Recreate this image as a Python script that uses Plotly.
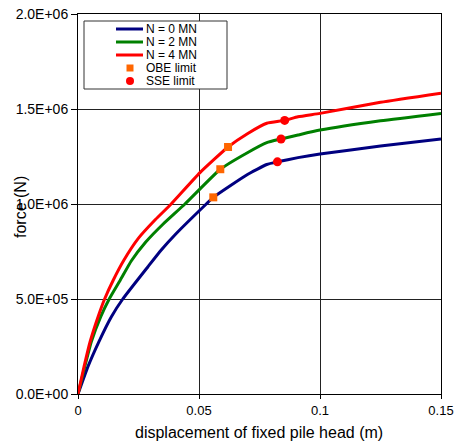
import plotly.graph_objects as go

# ---------------- data ----------------
x_n0 = [0, 0.0041, 0.0088, 0.0138, 0.0185, 0.0289, 0.0344, 0.0407, 0.053, 0.0559, 0.0697, 0.078, 0.0824, 0.0909, 0.1, 0.125, 0.15]
y_n0 = [0, 0.144e6, 0.28e6, 0.407e6, 0.5e6, 0.67e6, 0.758e6, 0.846e6, 1.0e6, 1.035e6, 1.153e6, 1.208e6, 1.222e6, 1.244e6, 1.263e6, 1.305e6, 1.342e6]

x_n2 = [0, 0.0028, 0.0055, 0.0094, 0.0129, 0.0175, 0.022, 0.028, 0.0352, 0.0442, 0.0588, 0.07, 0.078, 0.0839, 0.0909, 0.1, 0.125, 0.15]
y_n2 = [0, 0.144e6, 0.275e6, 0.407e6, 0.5e6, 0.6e6, 0.70e6, 0.80e6, 0.895e6, 1.0e6, 1.183e6, 1.27e6, 1.323e6, 1.342e6, 1.363e6, 1.389e6, 1.438e6, 1.477e6]

x_n4 = [0, 0.0025, 0.005, 0.0083, 0.011, 0.0146, 0.019, 0.025, 0.032, 0.0385, 0.0504, 0.062, 0.07, 0.078, 0.0854, 0.0909, 0.1, 0.125, 0.15]
y_n4 = [0, 0.144e6, 0.275e6, 0.407e6, 0.5e6, 0.6e6, 0.705e6, 0.82e6, 0.918e6, 1.0e6, 1.165e6, 1.30e6, 1.37e6, 1.425e6, 1.44e6, 1.459e6, 1.477e6, 1.535e6, 1.583e6]

obe_x = [0.0559, 0.0588, 0.062]
obe_y = [1.035e6, 1.183e6, 1.30e6]
sse_x = [0.0824, 0.0839, 0.0854]
sse_y = [1.222e6, 1.342e6, 1.44e6]

series_names = ["N = 0 MN", "N = 2 MN", "N = 4 MN"]
series_colors = ["#000080", "#008000", "#FF0000"]
marker_names = ["OBE limit", "SSE limit"]

x_tickvals = [0, 0.05, 0.1, 0.15]
x_ticktext = ["0", "0.05", "0.1", "0.15"]
y_tickvals = [0, 5e5, 1e6, 1.5e6, 2e6]
y_ticktext = ["0.0E+00", "5.0E+05", "1.0E+06", "1.5E+06", "2.0E+06"]

FONT = "Liberation Sans, Arial, sans-serif"
W, H = 454, 443
L, R, T, B = 78, 13, 14, 49
PW, PH = W - L - R, H - T - B

def px(xp):
    return (xp - L) / PW

def py(yp):
    return (H - B - yp) / PH

fig = go.Figure()
for xs, ys, name, col in zip([x_n0, x_n2, x_n4], [y_n0, y_n2, y_n4], series_names, series_colors):
    fig.add_trace(go.Scatter(x=xs, y=ys, mode="lines", name=name,
                             line=dict(color=col, width=3, shape="spline", smoothing=0.45),
                             showlegend=False))
fig.add_trace(go.Scatter(x=obe_x, y=obe_y, mode="markers", name=marker_names[0],
                         marker=dict(symbol="square", size=8, color="#FF6600"), showlegend=False))
fig.add_trace(go.Scatter(x=sse_x, y=sse_y, mode="markers", name=marker_names[1],
                         marker=dict(symbol="circle", size=9, color="#FF0000"), showlegend=False))

# ---- manual legend (box, samples, texts) ----
shapes = [dict(type="rect", xref="paper", yref="paper", x0=px(84), x1=px(227), y0=py(89), y1=py(21),
               line=dict(color="#333333", width=1), fillcolor="white", layer="above")]
annotations = []
rows = [29, 42, 55, 68, 81]
for i, (name, col) in enumerate(zip(series_names, series_colors)):
    yy = py(rows[i])
    shapes.append(dict(type="line", xref="paper", yref="paper", x0=px(116), x1=px(143), y0=yy, y1=yy,
                       line=dict(color=col, width=3), layer="above"))
cy = rows[3]
shapes.append(dict(type="rect", xref="paper", yref="paper", x0=px(126.5), x1=px(133.5), y0=py(cy + 3.5), y1=py(cy - 3.5),
                   line=dict(width=0), fillcolor="#FF6600", layer="above"))
cy = rows[4]
shapes.append(dict(type="circle", xref="paper", yref="paper", x0=px(126), x1=px(134), y0=py(cy + 4), y1=py(cy - 4),
                   line=dict(width=0), fillcolor="#FF0000", layer="above"))
for i, name in enumerate(series_names + marker_names):
    annotations.append(dict(xref="paper", yref="paper", x=px(144), y=py(rows[i]), text=name, showarrow=False,
                            xanchor="left", yanchor="middle", font=dict(family=FONT, size=12, color="black")))

annotations.append(dict(xref="paper", yref="paper", x=px(20), y=py(207), text="force (N)", showarrow=False,
                        textangle=-90, xanchor="center", yanchor="middle",
                        font=dict(family=FONT, size=16, color="black")))
annotations.append(dict(xref="paper", yref="paper", x=px(259), y=py(432), text="displacement of fixed pile head (m)",
                        showarrow=False, xanchor="center", yanchor="middle",
                        font=dict(family=FONT, size=16, color="black")))

fig.update_layout(
    template="none",
    width=W, height=H,
    margin=dict(l=L, r=R, t=T, b=B, pad=0),
    paper_bgcolor="white", plot_bgcolor="white",
    font=dict(family=FONT, color="black"),
    showlegend=False,
    shapes=shapes,
    annotations=annotations,
    xaxis=dict(range=[0, 0.15], tickvals=x_tickvals, ticktext=x_ticktext, ticks="outside", ticklen=4,
               tickcolor="black", tickfont=dict(size=13, family=FONT), showgrid=True, gridcolor="#222222",
               gridwidth=1, showline=True, linecolor="black", linewidth=1, mirror=True, zeroline=False,
               automargin=False),
    yaxis=dict(range=[0, 2e6], tickvals=y_tickvals, ticktext=y_ticktext, ticks="outside", ticklen=6,
               tickcolor="black", tickfont=dict(size=14, family=FONT), showgrid=True, gridcolor="#222222",
               gridwidth=1, showline=True, linecolor="black", linewidth=1, mirror=True, zeroline=False,
               automargin=False),
)

fig.write_html("out.html")
